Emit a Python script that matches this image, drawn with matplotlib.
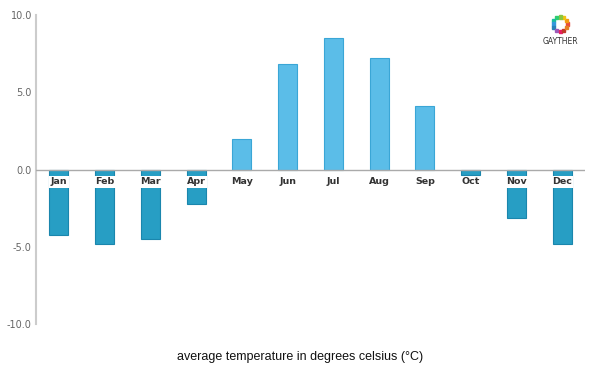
import numpy as np
import matplotlib.pyplot as plt

months = ['Jan', 'Feb', 'Mar', 'Apr', 'May', 'Jun', 'Jul', 'Aug', 'Sep', 'Oct', 'Nov', 'Dec']
temps = [-4.25, -4.8, -4.5, -2.25, 2.0, 6.8, 8.5, 7.2, 4.1, -0.35, -3.15, -4.85]
yticks = [-10.0, -5.0, 0.0, 5.0, 10.0]
title = 'average temperature in degrees celsius (\u00b0C)'

pos_col = '#5bbde8'
neg_col = '#279ec4'

fig = plt.figure(figsize=(6, 3.75), dpi=100)
ax = fig.add_axes([36 / 600, 1 - 324 / 375, 549 / 600, 309 / 375])

x = np.arange(len(months))
cols = [pos_col if t > 0 else neg_col for t in temps]
edges = ['#3aa6d6' if t > 0 else '#1a86ad' for t in temps]
ax.bar(x, temps, width=0.42, color=cols, edgecolor=edges, linewidth=0.8, zorder=2)

ax.axhline(0, color='#aaaaaa', lw=1.0, zorder=3)
ax.set_xlim(-0.5, 11.5)
ax.set_ylim(-10, 10)

for s in ['top', 'right', 'bottom']:
    ax.spines[s].set_visible(False)
ax.spines['left'].set_color('#cccccc')
ax.spines['left'].set_linewidth(1.5)

ax.set_xticks([])
ax.set_yticks(yticks)
ax.set_yticklabels(['%.1f' % v for v in yticks], color='#666666', fontsize=7)
ax.tick_params(axis='y', length=0, pad=3)

for i, (m, t) in enumerate(zip(months, temps)):
    box = None
    if t < -0.5:
        box = dict(facecolor='white', edgecolor='none', pad=1.0)
    ax.text(i, -0.8, m, ha='center', va='center', fontsize=6.8, fontweight='bold',
            color='#333333', zorder=4, bbox=box)

fig.text(0.5, 1 - 357 / 375, title, ha='center', va='center', fontsize=9,
         family='Liberation Sans', color='#111111')

# logo
ring_cols = ['#e84c3d', '#f39c12', '#f1c40f', '#8cc63f', '#2ecc71', '#1abc9c',
             '#3498db', '#2980b9', '#9b59b6', '#e91e63', '#c0392b', '#e67e22']
ang = np.linspace(0, 2 * np.pi, len(ring_cols), endpoint=False)
lx = 560 / 600 + np.cos(ang) * 7 / 600
ly = 1 - 24 / 375 + np.sin(ang) * 7 / 375
for xx, yy, c in zip(lx, ly, ring_cols):
    fig.patches.append(plt.Rectangle((xx - 1.5 / 600, yy - 1.5 / 375), 3 / 600, 3 / 375,
                                     transform=fig.transFigure, color=c, figure=fig))
fig.text(560 / 600, 1 - 41 / 375, 'GAYTHER', ha='center', va='center', fontsize=5.5,
         color='#333333')

fig.savefig('out.png', dpi=100)
